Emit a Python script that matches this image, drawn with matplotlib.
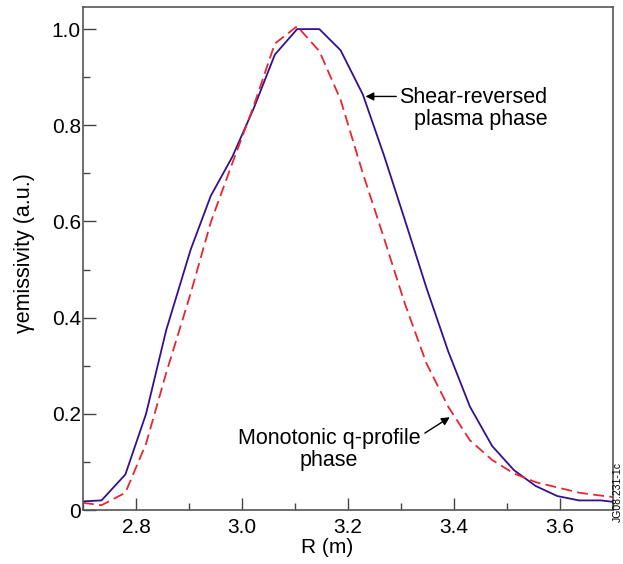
import numpy as np
import matplotlib
matplotlib.use("Agg")
import matplotlib.pyplot as plt
from matplotlib.ticker import MultipleLocator

plt.rcParams["font.family"] = ["Liberation Sans", "DejaVu Sans"]

# major radius grid (m)
r_vals = [2.70, 2.735, 2.78, 2.819, 2.857, 2.903, 2.941, 2.982, 3.022, 3.062,
          3.104, 3.146, 3.186, 3.228, 3.268, 3.307, 3.348, 3.389, 3.430, 3.472,
          3.513, 3.554, 3.595, 3.636, 3.677, 3.70]

# shear-reversed plasma phase (solid)
shear_rev = [0.018, 0.02, 0.074, 0.20, 0.374, 0.541, 0.653, 0.735, 0.835, 0.947,
             1.0, 1.0, 0.956, 0.864, 0.737, 0.604, 0.462, 0.330, 0.215, 0.133,
             0.083, 0.050, 0.029, 0.020, 0.020, 0.017]

# monotonic q-profile phase (dashed)
monotonic = [0.015, 0.010, 0.036, 0.138, 0.285, 0.450, 0.598, 0.722, 0.840, 0.970,
             1.006, 0.954, 0.853, 0.700, 0.565, 0.430, 0.305, 0.215, 0.145, 0.104,
             0.076, 0.058, 0.047, 0.036, 0.030, 0.027]

fig = plt.figure(figsize=(6.23, 5.64), dpi=100)
ax = fig.add_axes([0.1332, 0.0957, 0.8508, 0.8919])

ax.plot(r_vals, shear_rev, color="#34108f", lw=1.3)
ax.plot(r_vals, monotonic, color="#e8262e", lw=1.3, dashes=(6, 3))

ax.set_xlim(2.7, 3.7)
ax.set_ylim(0, 1.046)

ax.set_xticks([2.8, 3.0, 3.2, 3.4, 3.6])
ax.xaxis.set_minor_locator(MultipleLocator(0.1))
ax.set_yticks([0, 0.2, 0.4, 0.6, 0.8, 1.0])
ax.set_yticklabels(["0", "0.2", "0.4", "0.6", "0.8", "1.0"])
ax.yaxis.set_minor_locator(MultipleLocator(0.1))

ax.tick_params(which="both", direction="in", top=False, right=False,
               color="#444444", width=1.0, labelsize=15)
ax.tick_params(which="major", length=9)
ax.tick_params(which="minor", length=5)
ax.tick_params(axis="x", which="major", pad=6)
ax.tick_params(axis="y", which="major", pad=1.5)

for s in ax.spines.values():
    s.set_color("#555555")
    s.set_linewidth(1.2)

ax.set_xlabel("R (m)", fontsize=15)
ax.xaxis.set_label_coords(0.46, -0.055)
ax.set_ylabel("\u03b3emissivity (a.u.)", fontsize=15.5)
ax.yaxis.set_label_coords(-0.09, 0.51)

# annotations
ax.annotate("", xy=(3.233, 0.86), xytext=(3.291, 0.86),
            arrowprops=dict(arrowstyle="-|>", color="black", lw=1.0,
                            mutation_scale=12, shrinkA=0, shrinkB=0))
ax.text(3.576, 0.835, "Shear-reversed\nplasma phase", ha="right", va="center",
        multialignment="right", fontsize=15.5, linespacing=1.08)

ax.annotate("", xy=(3.392, 0.193), xytext=(3.345, 0.16),
            arrowprops=dict(arrowstyle="-|>", color="black", lw=1.0,
                            mutation_scale=12, shrinkA=0, shrinkB=0))
ax.text(3.164, 0.126, "Monotonic q-profile\nphase", ha="center", va="center",
        multialignment="center", fontsize=15.5, linespacing=1.08)

fig.text(1.0, 0.075, "JG08.231-1c", rotation=90, ha="right", va="bottom",
         fontsize=7.5)

fig.savefig("out.png", dpi=100)
